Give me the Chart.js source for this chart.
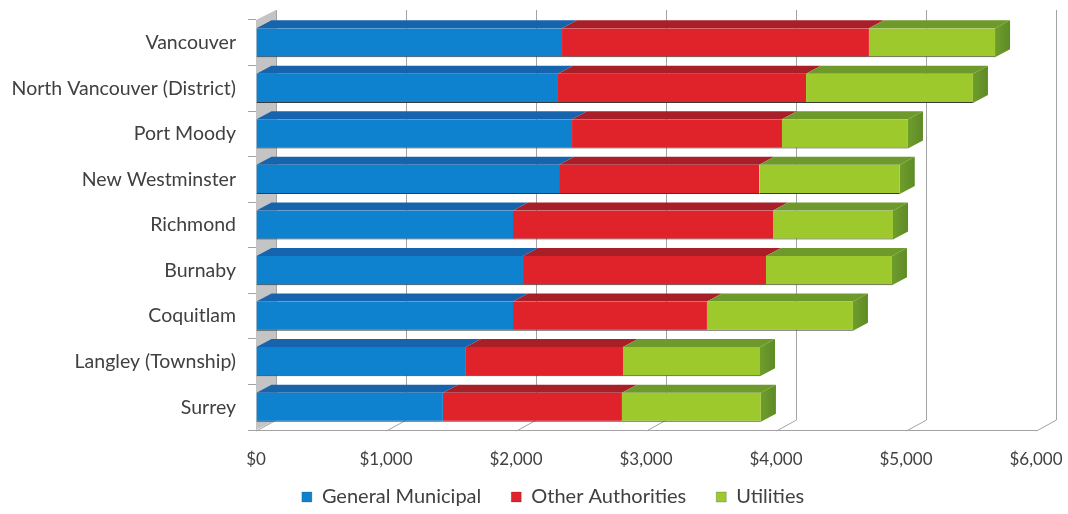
<!DOCTYPE html>
<html>
<head>
<meta charset="utf-8">
<script src="https://cdn.jsdelivr.net/npm/chart.js@4.4.1/dist/chart.umd.min.js"></script>
<style>
  html, body { margin: 0; padding: 0; background: #ffffff; }
  #wrap { width: 1068px; height: 514px; }
</style>
</head>
<body>
<div id="wrap"><canvas id="taxChart"></canvas></div>
<script>
// podaci sa slike
const categories = ['Vancouver', 'North Vancouver (District)', 'Port Moody', 'New Westminster',
  'Richmond', 'Burnaby', 'Coquitlam', 'Langley (Township)', 'Surrey'];
const generalMunicipal = [2354, 2323, 2431, 2331, 1977, 2054, 1977, 1615, 1438];
const otherAuthorities = [2361, 1908, 1615, 1540, 2000, 1869, 1492, 1208, 1377];
const utilities = [970, 1284, 969, 1081, 923, 969, 1123, 1054, 1069];
const tickLabels = ['$0', '$1,000', '$2,000', '$3,000', '$4,000', '$5,000', '$6,000'];

// boje: prednja strana, gornja strana, bocna strana
const frontColors = ['#0e82cf', '#e0222b', '#9dc92c'];
const topColors = ['#1664ad', '#a91f28', '#6d9a2b'];
const sideColor = '#5e8b25';

const DX = 15, DY = 8;     // dubina trake
const WX = 20, WY = 10;    // dubina zida
const LEGEND_H = 38;       // visina legende u rasporedu
const LEGEND_TOP = 457;    // gde legenda stvarno pocinje
const LEGEND_DX = 35;      // legenda malo udesno

// plugin za 3D izgled
const bar3d = {
  id: 'bar3d',
  beforeLayout(chart) {
    // legenda: veliki razmak izmedju stavki, ali mala visina
    const lg = chart.legend;
    if (lg && !lg._patched) {
      const fit = lg.fit;
      lg.fit = function () { fit.call(this); this.height = LEGEND_H; };
      lg._patched = true;
    }
  },
  afterLayout(chart) {
    const lg = chart.legend;
    if (lg) {
      lg.top = LEGEND_TOP;
      lg.bottom = chart.height;
      lg.left += LEGEND_DX;
      lg.right += LEGEND_DX;
    }
  },
  beforeDatasetsDraw(chart) {
    const { ctx, chartArea: a, scales: { x } } = chart;
    ctx.save();
    // levi zid
    ctx.fillStyle = '#c4c4c4';
    ctx.beginPath();
    ctx.moveTo(a.left, a.bottom);
    ctx.lineTo(a.left, a.top);
    ctx.lineTo(a.left + WX, a.top - WY);
    ctx.lineTo(a.left + WX, a.bottom - WY);
    ctx.closePath();
    ctx.fill();
    // linije mreze na zadnjem zidu i podu
    ctx.strokeStyle = '#a3a3a3';
    ctx.lineWidth = 1;
    x.ticks.forEach((t, i) => {
      const px = Math.round(x.getPixelForTick(i)) + 0.5;
      ctx.beginPath();
      ctx.moveTo(px + WX, a.top - WY);
      ctx.lineTo(px + WX, a.bottom - WY);
      ctx.stroke();
      ctx.beginPath();
      ctx.moveTo(px, a.bottom + 1);
      ctx.lineTo(px + WX, a.bottom - WY);
      ctx.stroke();
    });
    ctx.restore();
  },
  afterDatasetsDraw(chart) {
    const { ctx } = chart;
    ctx.save();
    const last = chart.data.datasets.length - 1;
    chart.data.datasets.forEach((ds, di) => {
      const meta = chart.getDatasetMeta(di);
      meta.data.forEach(bar => {
        const top = bar.y - bar.height / 2;
        const bottom = bar.y + bar.height / 2;
        const x0 = Math.min(bar.base, bar.x), x1 = Math.max(bar.base, bar.x);
        // gornja strana
        ctx.fillStyle = topColors[di];
        ctx.beginPath();
        ctx.moveTo(x0, top);
        ctx.lineTo(x0 + DX, top - DY);
        ctx.lineTo(x1 + DX, top - DY);
        ctx.lineTo(x1, top);
        ctx.closePath();
        ctx.fill();
        // bocna strana samo za poslednji segment
        if (di === last) {
          const g = ctx.createLinearGradient(x1, 0, x1 + DX, 0);
          g.addColorStop(0, '#6f9d2c');
          g.addColorStop(1, sideColor);
          ctx.fillStyle = g;
          ctx.beginPath();
          ctx.moveTo(x1, top);
          ctx.lineTo(x1 + DX, top - DY);
          ctx.lineTo(x1 + DX, bottom - DY);
          ctx.lineTo(x1, bottom);
          ctx.closePath();
          ctx.fill();
        }
      });
    });
    ctx.restore();
  }
};

function makeDataset(label, data, i) {
  return {
    label: label,
    data: data,
    backgroundColor: frontColors[i],
    borderColor: '#3a3a3a',
    borderWidth: { top: 0, right: 0, bottom: 1, left: 0 },
    borderSkipped: false,
    categoryPercentage: 1,
    barPercentage: 0.64
  };
}

const labelFont = { family: 'Lato', size: 19.5 };
const legendFont = { family: 'Lato', size: 20 };
const tickFont = { family: 'Lato', size: 17 };

new Chart(document.getElementById('taxChart'), {
  type: 'bar',
  data: {
    labels: categories,
    datasets: [
      makeDataset('General Municipal', generalMunicipal, 0),
      makeDataset('Other Authorities', otherAuthorities, 1),
      makeDataset('Utilities', utilities, 2)
    ]
  },
  options: {
    indexAxis: 'y',
    responsive: true,
    maintainAspectRatio: false,
    animation: false,
    layout: { padding: { top: 20, right: 32, left: 0, bottom: 0 } },
    scales: {
      x: {
        stacked: true,
        min: 0,
        max: 6000,
        afterFit(scale) {
          scale.height = 46;
          scale.paddingLeft = 0;
          scale.paddingRight = 0;
        },
        ticks: {
          stepSize: 1000,
          padding: 19,
          color: '#404040',
          font: tickFont,
          maxRotation: 0,
          callback: (v, i) => tickLabels[i]
        },
        grid: { drawOnChartArea: false, drawTicks: false },
        border: { display: true, color: '#a3a3a3' }
      },
      y: {
        stacked: true,
        afterFit(scale) {
          scale.width = 256;
          scale.paddingTop = 0;
          scale.paddingBottom = 0;
        },
        ticks: { color: '#404040', font: labelFont, padding: 12 },
        grid: { drawOnChartArea: false, drawTicks: true, tickLength: 8, color: '#a3a3a3', offset: true },
        border: { display: true, color: '#a3a3a3' }
      }
    },
    plugins: {
      legend: {
        position: 'bottom',
        labels: {
          boxWidth: 10,
          boxHeight: 10,
          padding: 30,
          color: '#404040',
          font: legendFont
        }
      },
      tooltip: { enabled: false }
    }
  },
  plugins: [bar3d]
});
</script>
</body>
</html>
